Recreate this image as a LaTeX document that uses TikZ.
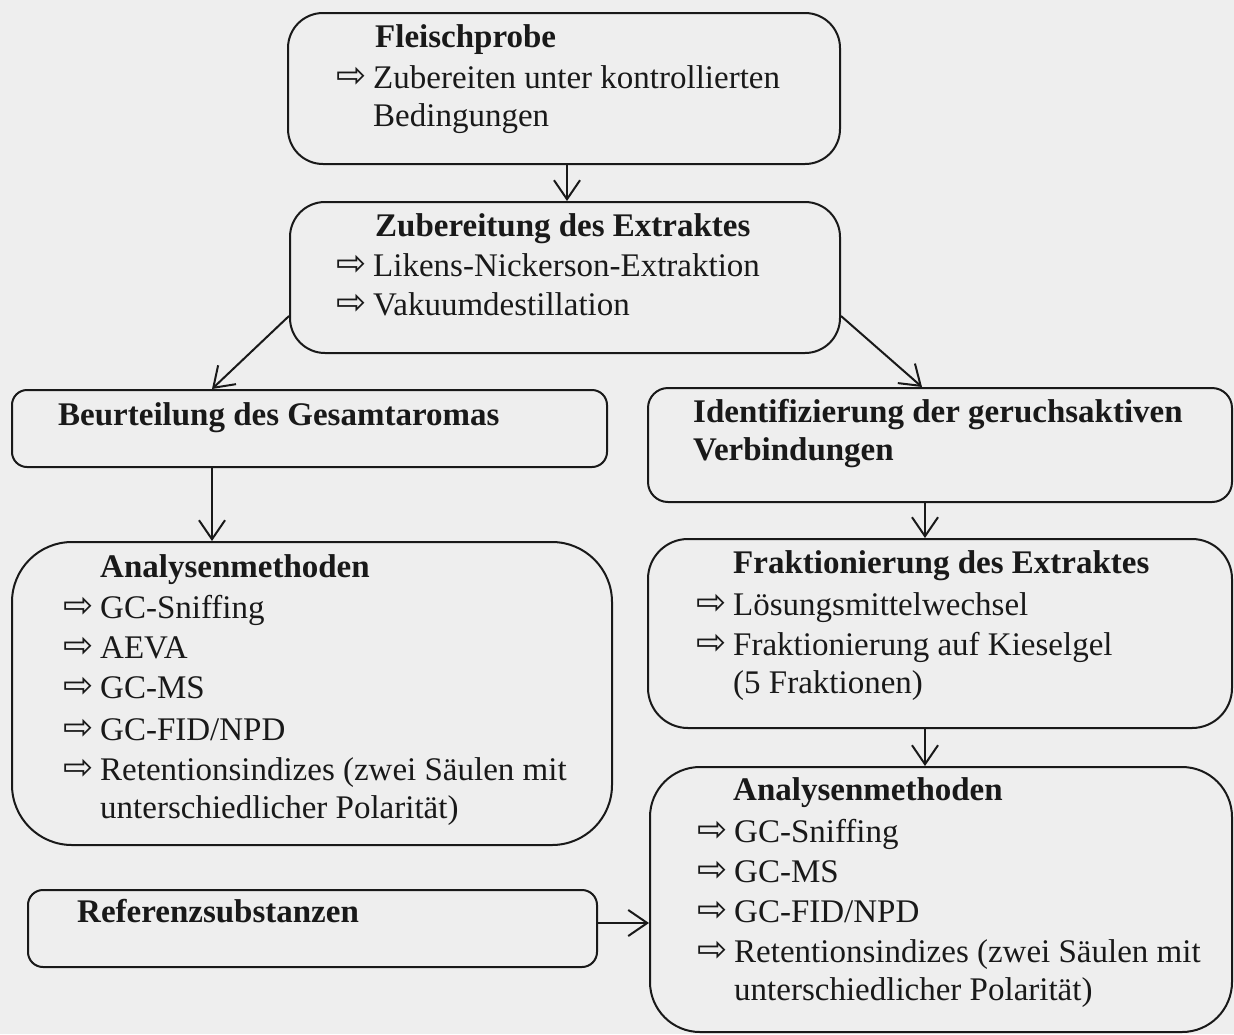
\documentclass[tikz,border=0pt]{standalone}
\usepackage{fontspec}
\setmainfont{Liberation Serif}
\newfontfamily\symfont{DejaVu Sans}
\usetikzlibrary{arrows.meta}
\definecolor{bgcol}{RGB}{238,238,238}
\definecolor{ink}{RGB}{25,25,25}
\newcommand{\ar}{\makebox[37pt][l]{\raisebox{1pt}{\fontsize{36}{36}\selectfont\symfont ⇨}}}
\tikzset{
  box/.style={draw=ink, line width=2pt, rounded corners=#1, inner sep=0pt},
  ttl/.style={anchor=base west, inner sep=0pt, text=ink, font=\fontsize{33}{38}\selectfont\bfseries},
  itm/.style={anchor=base west, inner sep=0pt, text=ink, font=\fontsize{33}{38}\selectfont},
  arr/.style={draw=ink, line width=2pt, -{Straight Barb[length=19pt,width=26pt,line width=2pt]}}
}
\begin{document}
\begin{tikzpicture}[x=1pt,y=-1pt]
\useasboundingbox (0,0) rectangle (1234,1034);
\fill[bgcol] (0,0) rectangle (1234,1034);
% boxes
\node[box=35pt, minimum width=552pt, minimum height=151pt] (b1) at (564,88.5) {};
\node[box=35pt, minimum width=550pt, minimum height=151pt] (b2) at (565,277.5) {};
\node[box=15pt, minimum width=595pt, minimum height=77pt] (b3) at (309.5,428.5) {};
\node[box=20pt, minimum width=584pt, minimum height=114pt] (b4) at (940,445) {};
\node[box=60pt, minimum width=600pt, minimum height=303pt] (b5) at (312,693.5) {};
\node[box=40pt, minimum width=584pt, minimum height=189pt] (b6) at (940,633.5) {};
\node[box=50pt, minimum width=582pt, minimum height=265pt] (b7) at (941,899.5) {};
\node[box=15pt, minimum width=569pt, minimum height=77pt] (b8) at (312.5,928.5) {};
% texts box 1
\node[ttl] (t1) at (375,47) {Fleischprobe};
\node[itm] (t1a) at (336,88) {\ar Zubereiten unter kontrollierten};
\node[itm] (t1b) at (373,126) {Bedingungen};
% box 2
\node[ttl] (t2) at (375,236) {Zubereitung des Extraktes};
\node[itm] (t2a) at (336,276) {\ar Likens-Nickerson-Extraktion};
\node[itm] (t2b) at (336,315) {\ar Vakuumdestillation};
% box 3
\node[ttl] (t3) at (58,425) {Beurteilung des Gesamtaromas};
% box 4
\node[ttl] (t4) at (693,422) {Identifizierung der geruchsaktiven};
\node[ttl] (t4b) at (693,460) {Verbindungen};
% box 5
\node[ttl] (t5) at (100,577) {Analysenmethoden};
\node[itm] (t5a) at (63,618) {\ar GC-Sniffing};
\node[itm] (t5b) at (63,658) {\ar AEVA};
\node[itm] (t5c) at (63,698) {\ar GC-MS};
\node[itm] (t5d) at (63,740) {\ar GC-FID/NPD};
\node[itm] (t5e) at (63,780) {\ar Retentionsindizes (zwei Säulen mit};
\node[itm] (t5f) at (100,818) {unterschiedlicher Polarität)};
% box 6
\node[ttl] (t6) at (733,573) {Fraktionierung des Extraktes};
\node[itm] (t6a) at (696,615) {\ar Lösungsmittelwechsel};
\node[itm] (t6b) at (696,655) {\ar Fraktionierung auf Kieselgel};
\node[itm] (t6c) at (733,693) {(5 Fraktionen)};
% box 7
\node[ttl] (t7) at (733,800) {Analysenmethoden};
\node[itm] (t7a) at (697,842) {\ar GC-Sniffing};
\node[itm] (t7b) at (697,882) {\ar GC-MS};
\node[itm] (t7c) at (697,922) {\ar GC-FID/NPD};
\node[itm] (t7d) at (697,962) {\ar Retentionsindizes (zwei Säulen mit};
\node[itm] (t7e) at (734,1000) {unterschiedlicher Polarität)};
% box 8
\node[ttl] (t8) at (77,922) {Referenzsubstanzen};
% connectors
\draw[arr] (567,0 |- b1.south) -- (567,0 |- b2.north);
\draw[arr] ([yshift=-38.5pt]b2.west) -- (212,0 |- b3.north);
\draw[arr] ([yshift=-38.5pt]b2.east) -- (922,0 |- b4.north);
\draw[arr] (212,0 |- b3.south) -- (212,0 |- b5.north);
\draw[arr] (925,0 |- b4.south) -- (925,0 |- b6.north);
\draw[arr] (925,0 |- b6.south) -- (925,0 |- b7.north);
\draw[arr] ([yshift=5.5pt]b8.east) -- ([yshift=5.5pt]b8.east -| b7.west);
\end{tikzpicture}
\end{document}
